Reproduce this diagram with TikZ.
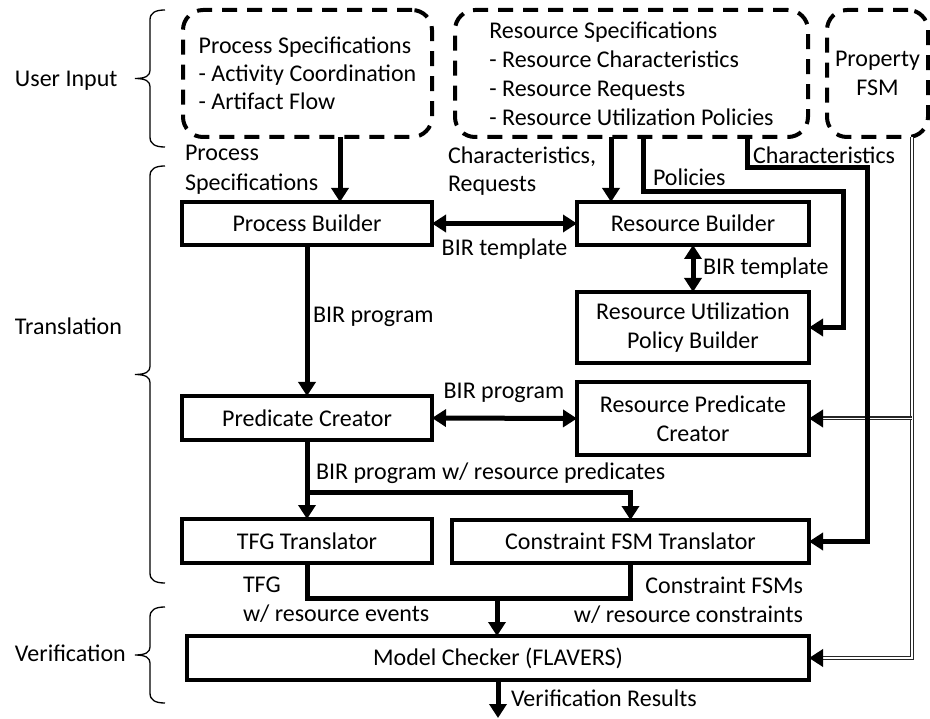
\documentclass[tikz,border=0pt]{standalone}
\usepackage{fontspec}
\setmainfont{Carlito}
\usetikzlibrary{arrows.meta}
\newcommand{\sidebrace}[2]{%
  \pgfmathsetmacro{\brmid}{(#1+#2)/2}%
  \draw[brc] (165,#1) .. controls (155,#1) and (150,#1+3) .. (150,#1+10)
    -- (150,\brmid-8) .. controls (150,\brmid-3) and (146,\brmid) .. (135,\brmid)
    .. controls (146,\brmid) and (150,\brmid+3) .. (150,\brmid+8)
    -- (150,#2-10) .. controls (150,#2-3) and (155,#2) .. (165,#2);}
\begin{document}
\begin{tikzpicture}[x=1pt,y=-1pt,
  >={Triangle[length=14pt,width=17pt]},
  every node/.style={font=\fontsize{24}{29}\selectfont, inner sep=0pt, outer sep=0pt},
  box/.style={draw, line width=3.75pt, align=center},
  dashbox/.style={draw, line width=4pt, dash pattern=on 15pt off 10pt, rounded corners=20pt},
  ln/.style={line width=5pt},
  arr/.style={ln, ->},
  darr/.style={ln, <->},
  dbl/.style={draw=black!85, line width=1.1pt, double=white, double distance=1.8pt},
  brc/.style={line width=1.3pt}
]
\useasboundingbox (0,0) rectangle (930,719);

% helper coordinates
\coordinate (xP) at (340,0);
\coordinate (xR) at (611,0);
\coordinate (xPol) at (643,0);
\coordinate (kPol) at (843,192);
\coordinate (xCh) at (747,0);
\coordinate (kCh) at (867,168);
\coordinate (xPf) at (912,0);
\coordinate (yBr) at (0,493);
\coordinate (jn) at (497,598);
\coordinate (vr) at (0,718);

% braces
\sidebrace{10}{147}
\sidebrace{166}{583}
\sidebrace{607}{703}

% input boxes
\node[dashbox, minimum width=249pt, minimum height=127pt, align=left, font=\fontsize{24}{28}\selectfont] (ps) at (307.5,73.5)
  {Process Specifications\\- Activity Coordination\\- Artifact Flow};
\node[dashbox, minimum width=353pt, minimum height=127pt, align=left, font=\fontsize{24}{29}\selectfont] (rs) at (631.5,73.5)
  {Resource Specifications\\- Resource Characteristics\\- Resource Requests\\- Resource Utilization Policies};
\node[dashbox, minimum width=101pt, minimum height=127pt, align=center, font=\fontsize{24}{29}\selectfont] (pf) at (877.5,73.5)
  {Property\\FSM};

% processing boxes
\node[box, minimum width=250pt, minimum height=43pt] (pb) at (307,223.5) {Process Builder};
\node[box, minimum width=232pt, minimum height=43pt] (rb) at (693,223.5) {Resource Builder};
\node[box, minimum width=232pt, minimum height=71pt] (rupb) at (693,327.5) {Resource Utilization\\Policy Builder};
\node[box, minimum width=250pt, minimum height=44pt] (pc) at (307,418) {Predicate Creator};
\node[box, minimum width=232pt, minimum height=73pt] (rpc) at (693,418.5) {Resource Predicate\\Creator};
\node[box, minimum width=250pt, minimum height=44pt] (tfg) at (307,541) {TFG Translator};
\node[box, minimum width=357pt, minimum height=43pt] (cfsm) at (630.5,541.5) {Constraint FSM Translator};
\node[box, minimum width=622pt, minimum height=44pt] (mc) at (498,658) {Model Checker (FLAVERS)};

% double lines from Property FSM
\draw[dbl, shorten >=13pt] (pf.south -| xPf) |- (mc.east);
\draw[dbl, shorten >=13pt] (rpc.east -| xPf) -- (rpc.east);
\draw[arr] ([xshift=14pt]mc.east) -- (mc.east);
\draw[arr] ([xshift=14pt]rpc.east) -- (rpc.east);

% connectors
\draw[arr] (ps.south -| xP) -- (pb.north -| xP);
\draw[arr] (rs.south -| xR) -- (rb.north -| xR);
\draw[arr] (rs.south -| xPol) |- (kPol) |- (rupb.east);
\draw[arr] (rs.south -| xCh) |- (kCh) |- (cfsm.east);
\draw[darr] (pb.east) -- (rb.west);
\draw[darr] (rb.south) -- (rupb.north);
\draw[arr] (pb.south) -- (pc.north);
\draw[darr] (pc.east) -- (rpc.west);
\draw[arr] (pc.south) -- (tfg.north);
\draw[arr] (pc.south |- yBr) -| (cfsm.north);
\draw[ln] (tfg.south) |- (jn);
\draw[ln] (cfsm.south) |- (jn);
\draw[arr] (jn) -- (mc.north -| jn);
\draw[arr] (mc.south) -- (mc.south |- vr);

% labels
\node[anchor=west, align=left, font=\fontsize{24}{30}\selectfont] (lps) at (185,170) {Process\\Specifications};
\node[anchor=west, align=left, font=\fontsize{24}{28}\selectfont] (lcr) at (448,171) {Characteristics,\\Requests};
\node[anchor=west] (lpol) at (653,177) {Policies};
\node[anchor=west] (lch) at (753,155) {Characteristics};
\node (lbt1) at (504.5,249) {BIR template};
\node[anchor=west] (lbt2) at (703,268) {BIR template};
\node[anchor=west] (lbp1) at (313,317) {BIR program};
\node (lbp2) at (504,393) {BIR program};
\node[anchor=west] (lbpr) at (316,473) {BIR program w/ resource predicates};
\node[anchor=west, align=left] (ltfg) at (243,600) {TFG\\w/ resource events};
\node[anchor=east, align=right] (lcf) at (803,600) {Constraint FSMs\\w/ resource constraints};
\node[anchor=west] (lvr) at (511,698) {Verification Results};
\node[anchor=west] (lui) at (15,81) {User Input};
\node[anchor=west] (ltr) at (15,326) {Translation};
\node[anchor=west] (lve) at (15,653) {Verification};
\end{tikzpicture}
\end{document}
